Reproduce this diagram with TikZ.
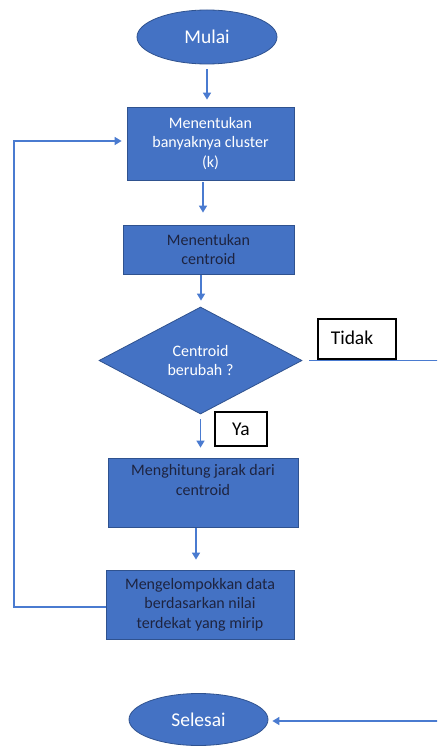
\documentclass[tikz,border=0pt]{standalone}
\usepackage{fontspec}
\setmainfont{Carlito}
\usetikzlibrary{shapes.geometric,arrows.meta}
\definecolor{ofblue}{HTML}{4472C4}
\definecolor{ofedge}{HTML}{2F528F}
\definecolor{lineblue}{HTML}{4A7BD0}
\definecolor{darktxt}{HTML}{1E2440}
\tikzset{
  x=1pt,y=1pt,
  boxtxt/.style={font=\fontsize{16}{19.5}\selectfont, align=center},
  proc/.style={draw=ofedge, fill=ofblue, line width=0.8pt, rectangle, inner sep=0pt, boxtxt},
  term/.style={draw=ofedge, fill=ofblue, line width=0.8pt, ellipse, inner sep=0pt, text=white, font=\fontsize{19.5}{23}\selectfont},
  dec/.style={draw=ofedge, fill=ofblue, line width=0.8pt, diamond, inner sep=0pt, boxtxt, text=white},
  lbl/.style={draw=black, fill=white, line width=1.2pt, rectangle, inner sep=0pt, font=\fontsize{19.5}{23}\selectfont, text=black},
  conn/.style={draw=lineblue, line width=1.5pt},
  arr/.style={conn, -{Triangle[width=8pt,length=7pt]}},
}
\begin{document}
\begin{tikzpicture}
\useasboundingbox (0,0) rectangle (437,-746);
\fill[white] (0,0) rectangle (437,-746);
\clip (0,0) rectangle (437,-746);

\node[term, minimum width=140, minimum height=54] (mulai) at (207,-37) {Mulai};
\node[proc, minimum width=167, minimum height=73, text=white] (b1) at (210.5,-143.5) {Menentukan\\banyaknya cluster\\(k)};
\node[proc, minimum width=171, minimum height=49, text=darktxt] (b2) at (208.5,-249.5) {Menentukan\\centroid};
\node[dec, minimum width=203, minimum height=107, aspect=1.9] (d) at (200.5,-360.5) {Centroid\\berubah ?};
\node[proc, minimum width=190, minimum height=69, text=darktxt] (b3) at (203,-492.5) {Menghitung jarak dari\\centroid\\\strut};
\node[proc, minimum width=188, minimum height=69, text=darktxt] (b4) at (200,-604.5) {Mengelompokkan data\\berdasarkan nilai\\terdekat yang mirip};
\node[term, minimum width=139, minimum height=52] (selesai) at (198.5,-719.5) {Selesai};

\coordinate (r1) at (440,-360.5);
\coordinate (r2) at (440,-721);
\coordinate (l1) at (14,-607);
\coordinate (l2) at (14,-141);

\draw[arr] ([yshift=-5pt]mulai.south) -- ([yshift=7pt]b1.north -| mulai.south);
\draw[arr] ([xshift=-7.5pt,yshift=-2pt]b1.south) -- ([xshift=-7.5pt,yshift=12pt]b1.south |- b2.north);
\draw[arr] ([xshift=-7.5pt,yshift=-1pt]b2.south) -- ([xshift=-7.5pt,yshift=6pt]b2.south |- d.north);
\draw[arr] ([yshift=-5pt]d.south) -- ([yshift=10pt]d.south |- b3.north);
\draw[arr] ([xshift=-7pt,yshift=-1pt]b3.south) -- ([xshift=-7pt,yshift=10pt]b3.south |- b4.north);
\draw[arr] ([yshift=-2.5pt]b4.west) -- (l1) -- (l2) -- ([xshift=-5pt]l2 -| b1.west);
\draw[arr] ([xshift=7pt]d.east) -- (r1) -- (r2) -- ([xshift=4pt,yshift=-1.5pt]selesai.east);

\node[lbl, minimum width=78, minimum height=40] (tidak) at (357,-339) {\raisebox{3pt}{Tidak}\hspace*{10pt}};
\node[lbl, minimum width=52, minimum height=34] (ya) at (241,-429) {Ya};
\end{tikzpicture}
\end{document}
